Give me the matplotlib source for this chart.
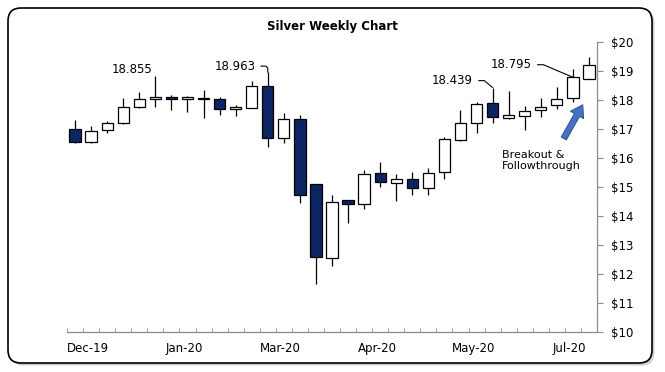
import numpy as np
import matplotlib
matplotlib.use('Agg')
import matplotlib.pyplot as plt
from matplotlib.patches import FancyBboxPatch
from matplotlib.ticker import FuncFormatter, MultipleLocator, FixedLocator

# ── Weekly OHLC ──────────────────────────────────────────────────────────────
opens = [17.00, 16.55, 16.97, 17.20, 17.77, 18.03, 18.10, 18.04, 18.09, 18.03,
         17.69, 17.75, 18.48, 16.69, 17.34, 15.10, 12.57, 14.55, 14.41, 15.48,
         15.14, 15.28, 14.97, 15.52, 16.63, 17.21, 17.90, 17.38, 17.45, 17.66,
         17.83, 18.08, 18.72]
closes = [16.57, 16.93, 17.21, 17.76, 18.03, 18.10, 18.04, 18.10, 18.06, 17.69,
          17.76, 18.48, 16.69, 17.34, 14.72, 12.61, 14.48, 14.41, 15.45, 15.17,
          15.28, 14.97, 15.48, 16.66, 17.21, 17.87, 17.41, 17.48, 17.62, 17.76,
          18.03, 18.795, 19.21]
highs = [17.32, 17.12, 17.29, 18.07, 18.29, 18.855, 18.18, 18.15, 18.36, 18.10,
         17.85, 18.65, 18.963, 17.57, 17.50, 15.13, 14.73, 14.57, 15.60, 15.86,
         15.45, 15.52, 15.67, 16.72, 17.66, 17.94, 18.439, 18.31, 17.80, 18.07,
         18.45, 19.07, 19.48]
lows = [16.52, 16.52, 16.86, 17.17, 17.75, 17.78, 17.65, 17.59, 17.38, 17.48,
        17.46, 17.74, 16.38, 16.52, 14.45, 11.66, 12.29, 13.78, 14.24, 15.02,
        14.52, 14.72, 14.72, 15.28, 16.60, 16.86, 17.21, 17.34, 16.98, 17.41,
        17.70, 17.94, 18.72]

month_labels = ['Dec-19', 'Jan-20', 'Mar-20', 'Apr-20', 'May-20', 'Jul-20']
month_pos = [1, 7, 13, 19, 25, 31]

# annotated highs / closes: (week index, value, text offset in points, connector)
notes = [(5, highs[5], (-2, 4.5), None),
         (12, highs[12], (-9, 4.5), "angle,angleA=0,angleB=90,rad=3"),
         (26, highs[26], (-14, 5), "angle,angleA=0,angleB=-40"),
         (31, closes[31], (-29.5, 9), "angle,angleA=0,angleB=-23")]

NAVY = '#0b2563'
AXIS_GREY = '#8c8c8c'

plt.rcParams.update({'font.family': 'DejaVu Sans', 'font.size': 8})

fig = plt.figure(figsize=(6.65, 3.72), dpi=100)

# ── Rounded frame with drop shadow ───────────────────────────────────────────
shadow = FancyBboxPatch((0.105, 0.065), 6.44, 3.55,
                        boxstyle="round,pad=0,rounding_size=0.13",
                        transform=fig.dpi_scale_trans, facecolor='#a8a8a8',
                        edgecolor='none', alpha=0.55, zorder=0)
frame = FancyBboxPatch((0.08, 0.09), 6.44, 3.55,
                       boxstyle="round,pad=0,rounding_size=0.13",
                       transform=fig.dpi_scale_trans, facecolor='white',
                       edgecolor='black', linewidth=1.2, zorder=1)
fig.patches.extend([shadow, frame])

ax = fig.add_axes([0.1008, 0.1067, 0.7969, 0.7796])
ax.set_facecolor('none')
ax.set_zorder(2)

x = np.arange(len(opens))
o = np.array(opens)
c = np.array(closes)
up = c >= o

ax.vlines(x, lows, highs, color='black', linewidth=0.9, zorder=2)
ax.bar(x, np.abs(c - o), bottom=np.minimum(o, c), width=0.7,
       color=np.where(up, 'white', NAVY), edgecolor='black',
       linewidth=0.9, zorder=3)

ax.set_xlim(-0.5, len(opens) - 0.5)
ax.set_ylim(10, 20)

# axes styling
for side in ['top', 'left']:
    ax.spines[side].set_visible(False)
for side in ['right', 'bottom']:
    ax.spines[side].set_color(AXIS_GREY)
    ax.spines[side].set_linewidth(0.9)

ax.yaxis.tick_right()
ax.yaxis.set_major_locator(MultipleLocator(1))
ax.yaxis.set_major_formatter(FuncFormatter(lambda v, p: f'${v:.0f}'))
ax.tick_params(axis='y', direction='out', length=4, color=AXIS_GREY,
               labelsize=8.5, pad=6)

# month labels sit a touch left of their week in the original
ax.xaxis.set_major_locator(FixedLocator([p - 0.2 for p in month_pos]))
ax.set_xticklabels(month_labels)
ax.xaxis.set_minor_locator(FixedLocator(np.arange(-0.5, len(opens), 1)))
ax.tick_params(axis='x', which='major', length=0, labelsize=8.5, pad=7)
ax.tick_params(axis='x', which='minor', direction='in', length=3,
               color=AXIS_GREY)

ax.set_title('Silver Weekly Chart', fontsize=8.5, fontweight='bold', pad=9)

# price annotations
for idx, val, off, conn in notes:
    props = None
    if conn:
        props = dict(arrowstyle='-', color='black', linewidth=0.8,
                     connectionstyle=conn, relpos=(1, 0.5),
                     shrinkA=2, shrinkB=0)
    ax.annotate(f'{val:.3f}', xy=(idx, val), xytext=off,
                textcoords='offset points', ha='right', va='center',
                fontsize=8.5, arrowprops=props, zorder=4)

# breakout arrow and note
ax.annotate('', xy=(31.7, 17.93), xytext=(30.35, 16.6),
            arrowprops=dict(arrowstyle='simple,head_width=0.9,head_length=0.7,tail_width=0.35',
                            mutation_scale=12, facecolor='#4472c4',
                            edgecolor='#2f4f8f', linewidth=0.7),
            zorder=4)
ax.text(26.6, 16.3, 'Breakout &\nFollowthrough', ha='left', va='top',
        fontsize=8, linespacing=1.15, zorder=4)

fig.savefig('out.png', dpi=100)
